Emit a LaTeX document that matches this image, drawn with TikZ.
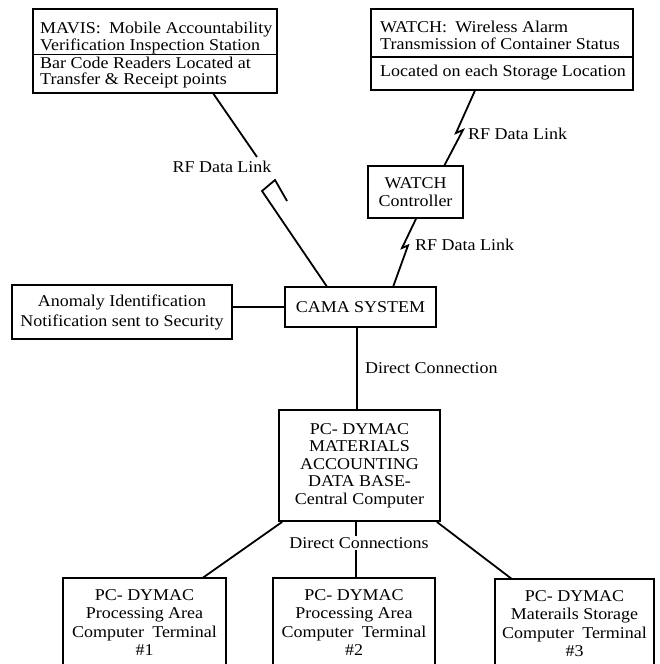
\documentclass[tikz,border=0pt]{standalone}
\usepackage{fontspec}
\setmainfont{Liberation Serif}[FakeStretch=1.09]
\usetikzlibrary{calc}
\begin{document}
\begin{tikzpicture}[x=1pt,y=-1pt,
  every node/.style={font=\fontsize{16.5}{18.5}\selectfont},
  box/.style={draw, line width=1.8pt, inner sep=0pt, align=center},
  frame/.style={draw, line width=1.8pt, inner sep=0pt},
  txt/.style={inner sep=0pt, align=left, font=\fontsize{16.5}{16.5}\selectfont},
  link/.style={line width=1.8pt, line join=miter},
  lbl/.style={inner sep=1pt}]
\clip (0,0) rectangle (660,664);

% MAVIS station
\node[frame, minimum width=244pt, minimum height=45.5pt] (mavisT) at (155,31.75) {};
\node[frame, minimum width=244pt, minimum height=38.5pt] (mavisB) at (155,73.75) {};
\node[txt, anchor=west] (mavisTt) at (40,38)
  {MAVIS:\enspace Mobile Accountability\\Verification Inspection Station};
\node[txt, anchor=west] (mavisBt) at (40,72.5)
  {Bar Code Readers Located at\\Transfer \& Receipt points};

% WATCH sensors
\node[frame, minimum width=262pt, minimum height=48pt] (watchT) at (502,33) {};
\node[frame, minimum width=262pt, minimum height=33pt] (watchB) at (502,73.5) {};
\node[txt, anchor=west] (watchTt) at (380,35.5)
  {WATCH:\enspace Wireless Alarm\\Transmission of Container Status};
\node[txt, anchor=west] (watchBt) at (380,73)
  {Located on each Storage Location};

% controller, central system, anomaly reporting
\node[box, minimum width=95pt, minimum height=52pt] (ctrl) at (415.5,192) {WATCH\\Controller};
\node[box, minimum width=151pt, minimum height=40pt] (cama) at (360.5,307) {CAMA SYSTEM};
\node[box, minimum width=220pt, minimum height=54pt,
  font=\fontsize{16.5}{20}\selectfont] (anom) at (122,312)
  {Anomaly Identification\\Notification sent to Security};

% accounting data base
\node[box, minimum width=161pt, minimum height=111pt,
  font=\fontsize{16.5}{17.5}\selectfont] (central) at (359.5,465.5)
  {PC- DYMAC\\MATERIALS\\ACCOUNTING\\DATA BASE-\\Central Computer};

% terminals: open frames running past the lower edge
\node[anchor=north, minimum width=163pt, inner ysep=11pt, align=center] (term1) at (144.5,578)
  {PC- DYMAC\\Processing Area\\Computer\enspace Terminal\\\#1};
\node[anchor=north, minimum width=162pt, inner ysep=11pt, align=center] (term2) at (354,578)
  {PC- DYMAC\\Processing Area\\Computer\enspace Terminal\\\#2};
\node[anchor=north, minimum width=159pt, inner ysep=11pt, align=center] (term3) at (574.5,579)
  {PC- DYMAC\\Materails Storage\\Computer\enspace Terminal\\\#3};
\foreach \t in {term1,term2,term3}
  \draw[link] (\t.north west |- 0,690) -- (\t.north west) -- (\t.north east) -- (\t.north east |- 0,690);

% connector labels
\node[lbl] (rf1) at (222,167) {RF Data Link};
\node[lbl, anchor=west] (rf2) at (467,134) {RF Data Link};
\node[lbl, anchor=west] (rf3) at (414,245) {RF Data Link};
\node[lbl, anchor=west] (dc) at (364,368) {Direct Connection};
\node[lbl] (dcs) at (359,543) {Direct Connections};

% attachment points
\coordinate (m1) at ($(mavisB.south west)!0.738!(mavisB.south east)$);
\coordinate (m2) at ($(cama.north west)!0.278!(cama.north east)$);
\coordinate (w1) at ($(watchB.south west)!0.397!(watchB.south east)$);
\coordinate (w2) at ($(ctrl.north west)!0.8!(ctrl.north east)$);
\coordinate (k1) at ($(ctrl.south west)!0.505!(ctrl.south east)$);
\coordinate (k2) at ($(cama.north west)!0.715!(cama.north east)$);
\coordinate (c1) at ($(cama.south west)!0.477!(cama.south east)$);
\coordinate (d0) at ($(central.south west)!0.48!(central.south east)$);
\coordinate (d1) at ($(central.south west)!0.025!(central.south east)$);
\coordinate (d3) at ($(central.south west)!0.975!(central.south east)$);
\coordinate (t1) at ($(term1.north west)!0.855!(term1.north east)$);
\coordinate (t3) at ($(term3.north west)!0.107!(term3.north east)$);

% RF link MAVIS -> CAMA, broken with a jog
\draw[link] (m1) -- (257,157);
\draw[link] (m2) -- (262,191) -- (275,180) -- (287,201);

% RF link WATCH -> controller with lightning jog
\draw[link] (w1) -- (456,133) -- (463,130) -- (w2);
% RF link controller -> CAMA
\draw[link] (k1) -- (402,248) -- (408,245.5) -- (k2);

% wired links
\draw[link] (anom.east |- cama.west) -- (cama.west);
\draw[link] (c1) -- (c1 |- central.north);
\draw[link] (d0) -- (d0 |- dcs.north);
\draw[link] (d0 |- dcs.south) -- (d0 |- term2.north);
\draw[link] (d1) -- (t1);
\draw[link] (d3) -- (t3);
\end{tikzpicture}
\end{document}
